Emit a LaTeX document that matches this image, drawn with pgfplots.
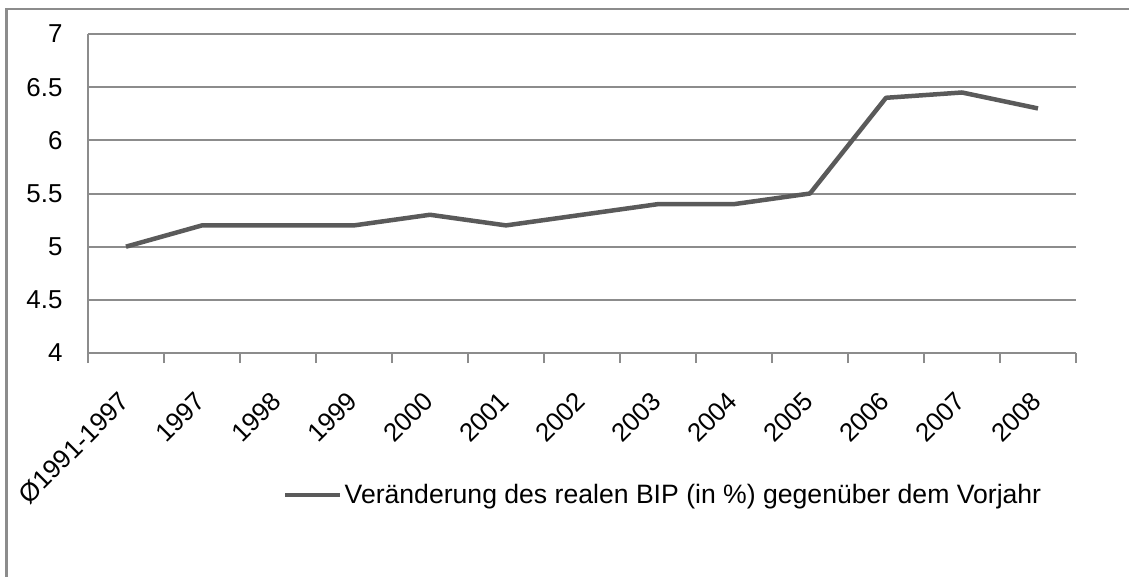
\documentclass[border=0pt]{standalone}
\usepackage{pgfplots}
\pgfplotsset{compat=1.18}
\usepackage{fontspec}
\setmainfont{Liberation Sans}
\definecolor{gridgray}{HTML}{8C8C8C}
\definecolor{linegray}{HTML}{5A5A5A}
\begin{document}
\begin{tikzpicture}
\useasboundingbox (-88bp,-224bp) rectangle (1041bp,353bp);
\draw[gridgray, line width=3bp] (-81bp,344bp) -- (-81bp,-224bp);
\draw[gridgray, line width=1.5bp] (-82.5bp,344bp) -- (1041bp,344bp);
\begin{axis}[
  at={(0,0)}, anchor=south west,
  scale only axis, width=988bp, height=319bp,
  xmin=-0.5, xmax=12.5, ymin=4, ymax=7,
  axis x line*=bottom, axis y line*=left,
  axis line style={gridgray, line width=1.5bp},
  xtick={0,...,12},
  xticklabels={Ø1991-1997,1997,1998,1999,2000,2001,2002,2003,2004,2005,2006,2007,2008},
  minor xtick={-0.5,0.5,...,12.5},
  major x tick style={draw=none},
  minor x tick style={gridgray, line width=1.5bp},
  tick align=outside,
  minor tick length=10bp,
  major tick length=0pt,
  ytick={4,4.5,5,5.5,6,6.5,7},
  yticklabels={4,4.5,5,5.5,6,6.5,7},
  y tick style={draw=none},
  ymajorgrids,
  grid style={gridgray, line width=2bp},
  tick label style={font=\fontsize{26}{30}\selectfont},
  yticklabel style={anchor=east, xshift=-22bp},
  xticklabel style={xshift=-8bp, yshift=-37bp, rotate=45, anchor=north east, inner sep=0pt},
  legend style={draw=none, fill=none, at={(0.1974,-0.445)}, anchor=west,
    font=\fontsize{26.7}{30}\selectfont, inner sep=0pt, nodes={inner sep=2bp}},
  legend image code/.code={\draw[#1] (0bp,0bp) -- (55bp,0bp);},
  legend cell align=left,
  clip=false,
]
\addplot[linegray, line width=4.5bp, line join=round] coordinates {
(0,5.0) (1,5.2) (2,5.2) (3,5.2) (4,5.3) (5,5.2) (6,5.3) (7,5.4) (8,5.4) (9,5.5) (10,6.4) (11,6.45) (12,6.3)
};
\addlegendentry{Veränderung des realen BIP (in \%) gegenüber dem Vorjahr}
\end{axis}
\end{tikzpicture}
\end{document}
